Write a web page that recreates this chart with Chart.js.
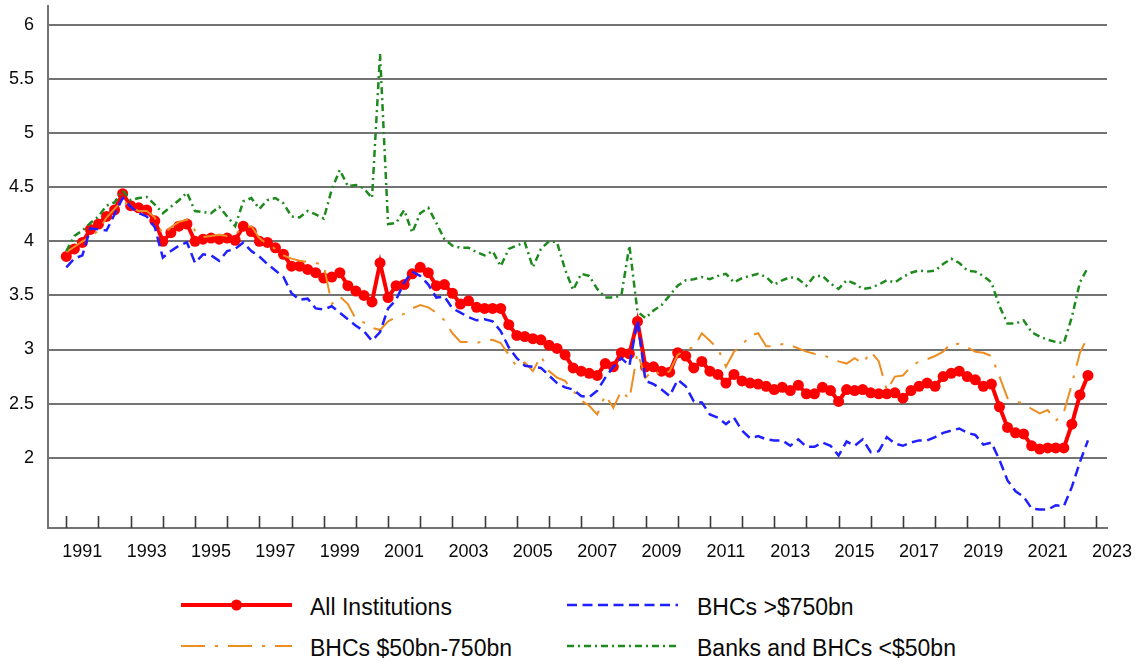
<!DOCTYPE html>
<html>
<head>
<meta charset="utf-8">
<script src="https://cdn.jsdelivr.net/npm/chart.js@4.4.0/dist/chart.umd.min.js"></script>
<style>
  html, body { margin: 0; padding: 0; background: #fff; }
  #wrap { position: relative; width: 1135px; height: 663px; font-family: "Liberation Sans", Arial, sans-serif; }
  #chartBox { position: absolute; left: 0; top: 0; width: 1135px; height: 580px; }
  .key { position: absolute; height: 26px; line-height: 26px; font-size: 23px; color: #0a0a0a; white-space: nowrap; }
  .swatch { position: absolute; }
</style>
</head>
<body>
<div id="wrap">
  <div id="chartBox"><canvas id="rates"></canvas></div>
  <canvas class="swatch" id="sw0" width="120" height="16" style="left:177px;top:597px"></canvas>
  <div class="key" style="left:310px;top:594px">All Institutions</div>
  <canvas class="swatch" id="sw1" width="120" height="16" style="left:563px;top:597px"></canvas>
  <div class="key" style="left:697px;top:594px">BHCs &gt;$750bn</div>
  <canvas class="swatch" id="sw2" width="120" height="16" style="left:177px;top:638px"></canvas>
  <div class="key" style="left:310px;top:635px">BHCs $50bn-750bn</div>
  <canvas class="swatch" id="sw3" width="120" height="16" style="left:563px;top:638px"></canvas>
  <div class="key" style="left:697px;top:635px">Banks and BHCs &lt;$50bn</div>
</div>
<script>
// quarterly, 1990Q4 .. 2022Q3
const firstYear = 1990, firstQuarter = 4, quarterCount = 128;
const quarters = [];
for (let i = 0; i < quarterCount; i++) {
    const q = firstQuarter - 1 + i;
    quarters.push((firstYear + Math.floor(q / 4)) + 'Q' + (q % 4 + 1));
}

const allInstitutions = [
    3.86, 3.93, 3.99, 4.11, 4.16, 4.23, 4.29, 4.44, 4.33, 4.31,
    4.29, 4.19, 4.00, 4.08, 4.14, 4.16, 4.00, 4.02, 4.03, 4.02,
    4.03, 4.01, 4.14, 4.09, 4.00, 3.99, 3.94, 3.88, 3.77, 3.77,
    3.74, 3.71, 3.66, 3.67, 3.71, 3.59, 3.54, 3.50, 3.44, 3.80,
    3.48, 3.59, 3.60, 3.70, 3.76, 3.71, 3.59, 3.60, 3.52, 3.42,
    3.45, 3.39, 3.38, 3.38, 3.38, 3.23, 3.13, 3.12, 3.10, 3.09,
    3.04, 3.01, 2.95, 2.83, 2.80, 2.78, 2.76, 2.87, 2.84, 2.97,
    2.96, 3.26, 2.84, 2.84, 2.80, 2.79, 2.97, 2.94, 2.83, 2.89,
    2.80, 2.77, 2.69, 2.77, 2.71, 2.69, 2.68, 2.66, 2.63, 2.65,
    2.62, 2.67, 2.59, 2.59, 2.65, 2.62, 2.52, 2.63, 2.62, 2.63,
    2.60, 2.59, 2.59, 2.60, 2.55, 2.62, 2.66, 2.69, 2.66, 2.75,
    2.78, 2.80, 2.75, 2.72, 2.66, 2.68, 2.47, 2.28, 2.23, 2.22,
    2.11, 2.08, 2.09, 2.09, 2.09, 2.31, 2.58, 2.76
];

const bhcOver750 = [
    3.76, 3.84, 3.87, 4.12, 4.11, 4.10, 4.25, 4.40, 4.32, 4.26,
    4.23, 4.13, 3.85, 3.91, 3.96, 3.99, 3.80, 3.88, 3.87, 3.82,
    3.91, 3.93, 3.99, 3.91, 3.86, 3.79, 3.73, 3.67, 3.52, 3.46,
    3.47, 3.38, 3.37, 3.40, 3.34, 3.28, 3.22, 3.17, 3.08, 3.16,
    3.38, 3.46, 3.62, 3.72, 3.68, 3.60, 3.48, 3.49, 3.38, 3.34,
    3.30, 3.27, 3.28, 3.26, 3.17, 3.02, 2.92, 2.85, 2.84, 2.83,
    2.76, 2.69, 2.65, 2.63, 2.57, 2.56, 2.62, 2.74, 2.84, 2.92,
    2.85, 3.27, 2.71, 2.68, 2.63, 2.57, 2.72, 2.66, 2.52, 2.51,
    2.40, 2.37, 2.31, 2.37, 2.25, 2.18, 2.20, 2.17, 2.16, 2.16,
    2.11, 2.17, 2.10, 2.10, 2.14, 2.11, 2.02, 2.15, 2.11, 2.17,
    2.05, 2.06, 2.19, 2.13, 2.11, 2.14, 2.16, 2.16, 2.19, 2.23,
    2.25, 2.27, 2.23, 2.21, 2.12, 2.14, 1.98, 1.79, 1.69, 1.64,
    1.53, 1.52, 1.52, 1.56, 1.55, 1.73, 1.96, 2.16
];

const bhc50to750 = [
    3.90, 3.95, 4.00, 4.04, 4.10, 4.22, 4.30, 4.38, 4.32, 4.28,
    4.28, 4.22, 4.06, 4.13, 4.18, 4.20, 4.10, 4.04, 4.05, 4.06,
    4.05, 4.07, 4.12, 4.14, 4.03, 3.97, 3.93, 3.87, 3.84, 3.82,
    3.81, 3.80, 3.78, 3.42, 3.49, 3.42, 3.28, 3.25, 3.20, 3.18,
    3.26, 3.30, 3.33, 3.38, 3.41, 3.39, 3.34, 3.27, 3.15, 3.07,
    3.07, 3.06, 3.08, 3.09, 3.06, 2.95, 2.84, 2.88, 2.80, 2.94,
    2.80, 2.74, 2.71, 2.62, 2.53, 2.48, 2.40, 2.58, 2.46, 2.62,
    2.54, 2.97, 2.74, 2.81, 2.76, 2.80, 2.95, 3.00, 3.02, 3.15,
    3.08, 3.01, 2.84, 2.98, 3.04, 3.13, 3.15, 3.03, 3.03, 3.05,
    3.04, 3.01, 2.98, 2.96, 2.95, 2.92, 2.89, 2.87, 2.92, 2.87,
    2.98, 2.89, 2.62, 2.75, 2.76, 2.84, 2.89, 2.91, 2.94, 2.98,
    3.06, 3.05, 3.02, 2.98, 2.97, 2.94, 2.75, 2.55, 2.52, 2.50,
    2.45, 2.41, 2.44, 2.34, 2.42, 2.68, 2.97, 3.12
];

const banksUnder50 = [
    3.91, 4.05, 4.10, 4.17, 4.23, 4.33, 4.36, 4.47, 4.38, 4.40,
    4.41, 4.34, 4.26, 4.32, 4.38, 4.45, 4.28, 4.27, 4.26, 4.32,
    4.23, 4.14, 4.37, 4.40, 4.30, 4.38, 4.40, 4.35, 4.23, 4.22,
    4.28, 4.25, 4.21, 4.48, 4.66, 4.51, 4.52, 4.49, 4.40, 5.73,
    4.16, 4.17, 4.29, 4.08, 4.26, 4.31, 4.17, 4.02, 3.96, 3.94,
    3.94, 3.90, 3.87, 3.91, 3.77, 3.93, 3.96, 3.99, 3.76, 3.93,
    4.00, 3.99, 3.74, 3.55, 3.70, 3.68, 3.56, 3.48, 3.48, 3.50,
    3.96, 3.35, 3.29, 3.36, 3.41, 3.50, 3.59, 3.64, 3.65, 3.67,
    3.65, 3.68, 3.70, 3.62, 3.66, 3.68, 3.70, 3.67, 3.60, 3.64,
    3.67, 3.65, 3.59, 3.68, 3.68, 3.61, 3.56, 3.64, 3.61, 3.56,
    3.57, 3.60, 3.64, 3.62, 3.67, 3.71, 3.73, 3.72, 3.73, 3.79,
    3.84, 3.80, 3.73, 3.72, 3.68, 3.62, 3.40, 3.24, 3.24, 3.27,
    3.16, 3.12, 3.09, 3.07, 3.06, 3.30, 3.62, 3.76
];

const yTicks = [2, 2.5, 3, 3.5, 4, 4.5, 5, 5.5, 6];
const xLabelYears = [1991, 1993, 1995, 1997, 1999, 2001, 2003, 2005, 2007, 2009,
    2011, 2013, 2015, 2017, 2019, 2021, 2023];
const xTickYears = [];
for (let y = 1991; y <= 2023; y++) xTickYears.push(y);

// quarter label -> decimal time at end of quarter
function quarterTime(label) {
    return parseInt(label.slice(0, 4)) + parseInt(label.slice(5)) * 0.25;
}
function toPoints(values) {
    return values.map((v, i) => ({ x: quarterTime(quarters[i]), y: v }));
}

const FONT = "'Liberation Sans', Arial, sans-serif";
const GRID = '#737373';

const datasets = [
    {
        label: 'All Institutions',
        data: toPoints(allInstitutions),
        borderColor: '#ff0000',
        backgroundColor: '#ff0000',
        borderWidth: 4,
        pointRadius: 5.5,
        pointBackgroundColor: '#ff0000',
        pointBorderWidth: 0,
        order: 4
    },
    {
        label: 'BHCs >$750bn',
        data: toPoints(bhcOver750),
        borderColor: '#1f1fff',
        borderWidth: 2.5,
        borderDash: [10, 5.5],
        pointRadius: 0,
        order: 2
    },
    {
        label: 'BHCs $50bn-750bn',
        data: toPoints(bhc50to750),
        borderColor: '#ee8e22',
        borderWidth: 2,
        borderDash: [24, 10, 3, 10],
        pointRadius: 0,
        order: 3
    },
    {
        label: 'Banks and BHCs <$50bn',
        data: toPoints(banksUnder50),
        borderColor: '#1e8a1e',
        borderWidth: 2.5,
        borderDash: [7, 4, 2, 4],
        pointRadius: 0,
        order: 1
    }
];

// short year ticks pointing up into the plot
const innerTicks = {
    id: 'innerTicks',
    beforeDatasetsDraw(chart) {
        const { ctx, chartArea } = chart;
        const x = chart.scales.x;
        ctx.save();
        ctx.strokeStyle = '#3a3a3a';
        ctx.lineWidth = 1.6;
        xTickYears.forEach(yr => {
            const px = Math.round(x.getPixelForValue(yr)) + 0.5;
            ctx.beginPath();
            ctx.moveTo(px, chartArea.bottom);
            ctx.lineTo(px, chartArea.bottom - 12);
            ctx.stroke();
        });
        ctx.restore();
    }
};

const chart = new Chart(document.getElementById('rates'), {
    type: 'line',
    data: { datasets },
    options: {
        responsive: true,
        maintainAspectRatio: false,
        animation: false,
        layout: { padding: { left: 0, right: 28, top: 0, bottom: 0 } },
        elements: { line: { tension: 0 } },
        plugins: {
            legend: { display: false },
            tooltip: { enabled: false }
        },
        scales: {
            x: {
                type: 'linear',
                min: 1990.431,
                max: 2023.342,
                grid: { display: false, drawTicks: false },
                border: { display: true, color: GRID, width: 2 },
                afterBuildTicks: s => { s.ticks = xTickYears.map(v => ({ value: v })); },
                afterFit: s => { s.height = 52; s.paddingLeft = 0; s.paddingRight = 0; },
                ticks: {
                    autoSkip: false,
                    maxRotation: 0,
                    padding: 13,
                    labelOffset: 16,
                    color: '#0a0a0a',
                    font: { family: FONT, size: 18 },
                    callback: v => xLabelYears.includes(v) ? String(v) : ''
                }
            },
            y: {
                min: 1.35,
                max: 6.18,
                grid: { color: GRID, lineWidth: 2, drawTicks: false },
                border: { display: true, color: GRID, width: 2 },
                afterBuildTicks: s => { s.ticks = yTicks.map(v => ({ value: v })); },
                afterFit: s => { s.width = 48; s.paddingTop = 0; s.paddingBottom = 0; },
                ticks: {
                    padding: 14,
                    color: '#0a0a0a',
                    font: { family: FONT, size: 18 },
                    callback: v => String(v)
                }
            }
        }
    },
    plugins: [innerTicks]
});

// legend swatches
function drawSwatch(id, ds) {
    const g = document.getElementById(id).getContext('2d');
    g.strokeStyle = ds.borderColor;
    g.lineWidth = ds.borderWidth;
    g.setLineDash(ds.borderDash || []);
    g.beginPath();
    g.moveTo(4, 8);
    g.lineTo(115, 8);
    g.stroke();
    if (ds.pointRadius) {
        g.fillStyle = ds.pointBackgroundColor;
        g.beginPath();
        g.arc(59.5, 8, ds.pointRadius, 0, Math.PI * 2);
        g.fill();
    }
}
drawSwatch('sw0', datasets[0]);
drawSwatch('sw1', datasets[1]);
drawSwatch('sw2', datasets[2]);
drawSwatch('sw3', datasets[3]);
</script>
</body>
</html>
